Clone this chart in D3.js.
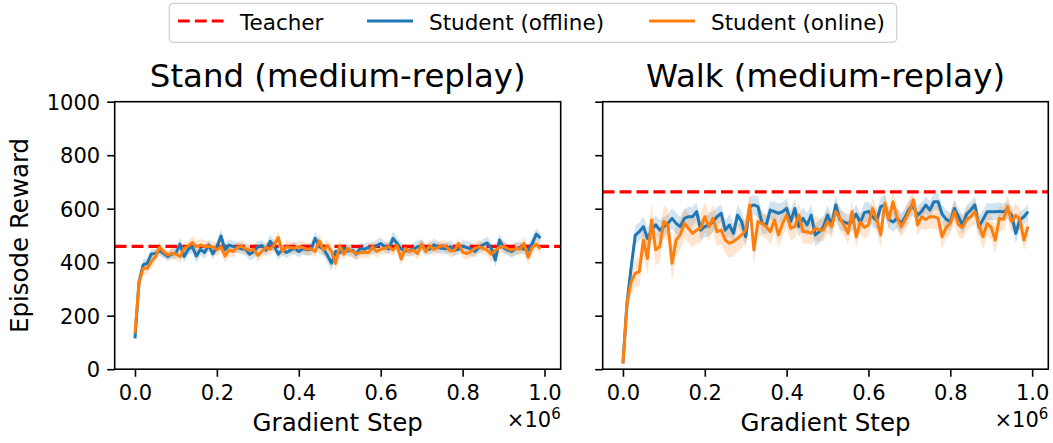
<!DOCTYPE html>
<html>
<head>
<meta charset="utf-8">
<script src="https://cdnjs.cloudflare.com/ajax/libs/d3/7.8.5/d3.min.js"></script>
<style>
  body { margin: 0; background: #fff; }
  svg { font-family: "DejaVu Sans", sans-serif; }
</style>
</head>
<body>
<svg id="chart" width="1053" height="443"></svg>
<script>
// checkpoints every 10k gradient steps
var steps = d3.range(0, 1000000, 10000);

var yTicks = [0, 200, 400, 600, 800, 1000];
var xTicks = [0, 200000, 400000, 600000, 800000, 1000000];
var xTickLabels = ["0.0", "0.2", "0.4", "0.6", "0.8", "1.0"];

var titles = ["Stand (medium-replay)", "Walk (medium-replay)"];
var teacher = [459, 663];

var standOffline = [115, 327, 390, 396, 431, 433, 443, 433, 421, 431,
  433, 468, 421, 448, 458, 423, 448, 436, 464, 431,
  458, 498, 446, 464, 458, 455, 450, 448, 430, 440,
  458, 462, 445, 478, 460, 430, 448, 436, 445, 452,
  440, 450, 446, 448, 489, 458, 450, 425, 396, 440,
  435, 452, 442, 445, 430, 452, 448, 455, 450, 462,
  470, 458, 450, 489, 470, 450, 442, 445, 448, 458,
  462, 450, 448, 465, 455, 452, 450, 458, 445, 448,
  460, 455, 450, 440, 455, 465, 472, 452, 408, 483,
  455, 445, 440, 450, 455, 448, 445, 470, 505, 490];
var standOfflineSd = [10, 20, 22, 20, 18, 16, 20, 18, 16, 18,
  20, 26, 22, 20, 24, 26, 22, 24, 20, 22,
  20, 26, 24, 22, 22, 20, 22, 20, 24, 26,
  22, 20, 24, 26, 22, 24, 20, 22, 20, 24,
  22, 20, 22, 24, 26, 28, 24, 26, 28, 24,
  22, 20, 22, 24, 22, 20, 22, 20, 22, 24,
  22, 20, 22, 26, 22, 24, 22, 20, 22, 24,
  22, 20, 22, 24, 22, 20, 22, 24, 22, 20,
  22, 24, 26, 22, 20, 22, 24, 22, 26, 24,
  22, 20, 22, 24, 22, 20, 22, 24, 22, 20];
var standOnline = [134, 324, 377, 377, 402, 421, 456, 439, 427, 433,
  431, 421, 452, 460, 473, 458, 464, 458, 460, 458,
  446, 458, 423, 446, 440, 455, 460, 450, 445, 448,
  425, 440, 455, 448, 465, 492, 440, 458, 455, 452,
  458, 455, 448, 450, 440, 480, 445, 462, 440, 395,
  462, 430, 452, 440, 432, 435, 438, 435, 458, 440,
  448, 452, 458, 445, 462, 412, 452, 440, 445, 432,
  468, 440, 462, 448, 455, 462, 458, 442, 445, 470,
  438, 432, 440, 452, 458, 452, 445, 430, 445, 455,
  460, 450, 445, 452, 448, 470, 418, 455, 468, 450];
var standOnlineSd = [12, 22, 24, 22, 20, 22, 24, 20, 18, 20,
  22, 24, 22, 20, 24, 22, 24, 22, 20, 22,
  24, 22, 26, 24, 22, 20, 22, 24, 22, 20,
  24, 22, 20, 22, 24, 26, 22, 24, 22, 20,
  22, 24, 22, 20, 22, 26, 24, 22, 24, 28,
  24, 22, 20, 22, 24, 22, 20, 22, 24, 22,
  20, 22, 24, 22, 20, 24, 22, 20, 22, 24,
  22, 20, 22, 24, 22, 20, 22, 24, 22, 20,
  22, 24, 22, 26, 24, 22, 20, 26, 28, 24,
  22, 20, 22, 24, 22, 26, 28, 24, 22, 20];

var walkOffline = [22, 250, 380, 500, 514, 533, 489, 520, 540, 520,
  533, 545, 564, 545, 533, 564, 570, 570, 589, 520,
  533, 539, 552, 570, 583, 520, 539, 508, 576, 552,
  495, 608, 614, 608, 545, 539, 595, 589, 583, 589,
  601, 552, 601, 533, 564, 539, 576, 502, 514, 533,
  576, 540, 614, 560, 550, 545, 552, 580, 548, 585,
  590, 570, 555, 608, 614, 560, 550, 565, 545, 570,
  600, 608, 575, 590, 614, 595, 626, 626, 580, 560,
  551, 601, 570, 539, 580, 595, 614, 533, 560, 589,
  589, 589, 590, 589, 595, 575, 508, 558, 570, 589];
var walkOfflineSd = [8, 30, 40, 36, 34, 38, 40, 36, 34, 38,
  36, 34, 38, 40, 36, 34, 38, 36, 34, 38,
  40, 42, 38, 36, 34, 38, 40, 36, 38, 40,
  42, 38, 36, 40, 38, 36, 34, 38, 36, 34,
  38, 40, 36, 40, 42, 44, 40, 42, 44, 40,
  38, 36, 34, 38, 36, 34, 38, 36, 34, 38,
  36, 38, 34, 36, 38, 34, 36, 38, 36, 34,
  32, 34, 36, 34, 32, 34, 30, 32, 34, 36,
  34, 32, 34, 36, 34, 32, 34, 36, 34, 32,
  30, 32, 34, 30, 32, 34, 36, 32, 30, 28];
var walkOnline = [22, 246, 327, 358, 365, 483, 414, 558, 446, 458,
  552, 539, 396, 483, 502, 545, 527, 508, 520, 527,
  570, 533, 564, 514, 520, 483, 471, 477, 489, 502,
  520, 614, 446, 552, 545, 533, 514, 558, 502, 545,
  576, 527, 533, 576, 514, 514, 508, 527, 520, 520,
  552, 533, 589, 564, 540, 508, 589, 495, 550, 530,
  540, 601, 560, 502, 620, 560, 626, 565, 533, 560,
  590, 633, 539, 570, 560, 570, 570, 565, 495, 530,
  545, 589, 540, 530, 560, 570, 589, 540, 495, 545,
  530, 483, 564, 560, 608, 551, 575, 560, 483, 533];
var walkOnlineSd = [8, 40, 50, 52, 56, 58, 60, 62, 58, 56,
  60, 62, 64, 60, 58, 56, 54, 52, 50, 54,
  56, 52, 50, 54, 52, 50, 54, 56, 52, 50,
  48, 52, 54, 50, 48, 46, 50, 48, 46, 50,
  48, 46, 44, 48, 46, 44, 42, 46, 44, 42,
  44, 42, 40, 44, 42, 40, 44, 42, 40, 44,
  42, 40, 44, 46, 42, 40, 42, 44, 40, 42,
  44, 40, 42, 44, 40, 42, 44, 46, 44, 42,
  40, 44, 46, 44, 42, 40, 44, 46, 48, 46,
  44, 50, 48, 44, 42, 44, 46, 44, 42, 40];

var seriesNames = ["Student (offline)", "Student (online)"];
var colors = ["#1f77b4", "#ff7f0e"];

var panels = [
  {title: titles[0], teacher: teacher[0], left: 114.7, right: 560.7, labels: true,
   series: [{mean: standOffline, sd: standOfflineSd}, {mean: standOnline, sd: standOnlineSd}]},
  {title: titles[1], teacher: teacher[1], left: 602.7, right: 1048.3, labels: false,
   series: [{mean: walkOffline, sd: walkOfflineSd}, {mean: walkOnline, sd: walkOnlineSd}]}
];

var plotTop = 101.7, plotBottom = 369.2;
var tickFont = 21, labelFont = 24.5, titleFont = 32.4;

var svg = d3.select("#chart");

var yScale = d3.scaleLinear().domain([0, 1000]).range([plotBottom, plotTop]);

panels.forEach(function(p) {
  var xScale = d3.scaleLinear()
      .domain([-49500, 1039500])
      .range([p.left, p.right]);

  var g = svg.append("g");

  // bands first, then lines
  p.series.forEach(function(s, k) {
    var pts = steps.map(function(x, i) { return {x: x, m: s.mean[i], sd: s.sd[i]}; });
    g.append("path")
      .datum(pts)
      .attr("fill", colors[k])
      .attr("fill-opacity", 0.2)
      .attr("d", d3.area()
        .x(d => xScale(d.x))
        .y0(d => yScale(d.m - d.sd))
        .y1(d => yScale(d.m + d.sd)));
  });

  g.append("line")
    .attr("x1", p.left).attr("x2", p.right)
    .attr("y1", yScale(p.teacher)).attr("y2", yScale(p.teacher))
    .attr("stroke", "red")
    .attr("stroke-width", 3.2)
    .attr("stroke-dasharray", "11.8,5.1");

  p.series.forEach(function(s, k) {
    var pts = steps.map(function(x, i) { return {x: x, m: s.mean[i]}; });
    g.append("path")
      .datum(pts)
      .attr("fill", "none")
      .attr("stroke", colors[k])
      .attr("stroke-width", 3)
      .attr("stroke-linejoin", "round")
      .attr("d", d3.line().x(d => xScale(d.x)).y(d => yScale(d.m)));
  });

  // frame
  g.append("rect")
    .attr("x", p.left).attr("y", plotTop)
    .attr("width", p.right - p.left).attr("height", plotBottom - plotTop)
    .attr("fill", "none")
    .attr("stroke", "#000")
    .attr("stroke-width", 1.6);

  var xAxis = g.append("g")
    .attr("transform", "translate(0," + plotBottom + ")")
    .call(d3.axisBottom(xScale).tickValues(xTicks)
      .tickSize(7.5).tickPadding(0)
      .tickFormat((d, i) => xTickLabels[i]));
  xAxis.select(".domain").remove();
  xAxis.selectAll("line").attr("stroke", "#000").attr("stroke-width", 1.6);
  xAxis.selectAll("text")
    .attr("y", 30.5).attr("dy", null)
    .attr("font-size", tickFont)
    .attr("font-family", "DejaVu Sans")
    .attr("fill", "#000");

  var yAxis = g.append("g")
    .attr("transform", "translate(" + p.left + ",0)")
    .call(d3.axisLeft(yScale).tickValues(yTicks)
      .tickSize(7.5).tickPadding(0)
      .tickFormat(d3.format("d")));
  yAxis.select(".domain").remove();
  yAxis.selectAll("line").attr("stroke", "#000").attr("stroke-width", 1.6);
  if (p.labels) {
    yAxis.selectAll("text")
      .attr("x", -14.5).attr("dy", "0.36em")
      .attr("font-size", tickFont)
      .attr("font-family", "DejaVu Sans")
      .attr("fill", "#000");
  } else {
    yAxis.selectAll("text").remove();
  }

  var mid = (p.left + p.right) / 2;

  g.append("text")
    .attr("x", mid).attr("y", 87)
    .attr("text-anchor", "middle")
    .attr("font-size", titleFont)
    .text(p.title);

  g.append("text")
    .attr("x", mid).attr("y", 431)
    .attr("text-anchor", "middle")
    .attr("font-size", labelFont)
    .text("Gradient Step");

  // offset text
  var off = g.append("text")
    .attr("x", p.right).attr("y", 427)
    .attr("text-anchor", "end")
    .attr("font-size", tickFont);
  off.append("tspan").text("\u00d710");
  off.append("tspan").attr("dy", -8).attr("font-size", 15).text("6");
});

svg.append("text")
  .attr("transform", "translate(27.5," + ((plotTop + plotBottom) / 2) + ") rotate(-90)")
  .attr("text-anchor", "middle")
  .attr("font-size", labelFont)
  .text("Episode Reward");

// legend
var legend = svg.append("g");
legend.append("rect")
  .attr("x", 169.3).attr("y", 3.3)
  .attr("width", 727.4).attr("height", 39)
  .attr("rx", 4)
  .attr("fill", "#fff")
  .attr("stroke", "#d0d0d0")
  .attr("stroke-width", 1.2);

var legendItems = [
  {name: "Teacher", color: "red", dash: "11.8,5.1", x: 178},
  {name: seriesNames[0], color: colors[0], dash: null, x: 367},
  {name: seriesNames[1], color: colors[1], dash: null, x: 649}
];
legendItems.forEach(function(d) {
  legend.append("line")
    .attr("x1", d.x).attr("x2", d.x + 46)
    .attr("y1", 21).attr("y2", 21)
    .attr("stroke", d.color)
    .attr("stroke-width", d.dash ? 3.2 : 3)
    .attr("stroke-dasharray", d.dash);
  legend.append("text")
    .attr("x", d.x + 62).attr("y", 29.5)
    .attr("font-size", 21.5)
    .text(d.name);
});
</script>
</body>
</html>
